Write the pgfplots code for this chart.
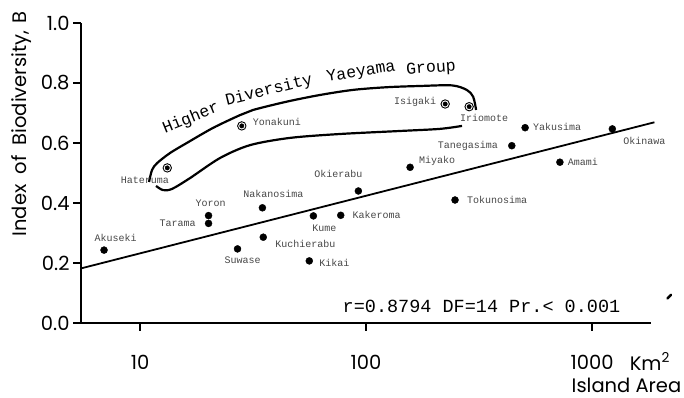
\documentclass[border=0pt]{standalone}
\usepackage{pgfplots}
\pgfplotsset{compat=1.18}
\usepackage{fontspec}
\setmainfont{Poppins}
\newfontfamily\tw{Liberation Mono}

% island name labels: x, y, xshift, yshift, name
\newcommand{\lab}[5]{\node[font=\tw\fontsize{10}{10}\selectfont, text=black!72, inner sep=0pt,
  xshift=#3pt, yshift=#4pt] at (axis cs:#1,#2) {#5};}

\begin{document}
\begin{tikzpicture}
\begin{axis}[
  scale only axis, width=570pt, height=300pt,
  xmode=log, xmin=5.48, xmax=1824, ymin=0, ymax=1,
  axis x line*=bottom, axis y line*=left,
  axis line style={-, line width=2.2pt},
  tick align=outside, major tick length=8pt,
  tick style={line width=2pt, black},
  xminorticks=false,
  xtick={10,100,1000}, xticklabels={10,100,1000},
  ytick={0,0.2,0.4,0.6,0.8,1.0},
  /pgf/number format/assume math mode=true,
  yticklabel={\pgfmathprintnumber[fixed, fixed zerofill, precision=1]{\tick}},
  tick label style={font=\fontsize{19.5}{19.5}\selectfont},
  xticklabel style={yshift=-21pt},
  clip=false,
]
% regression line
\addplot[black, line width=1.8pt] coordinates {(5.48,0.182) (1888,0.669)};

% outline of the Yaeyama group
\addplot[black, line width=2.2pt, smooth] coordinates {
  (10.96,0.47) (11.3,0.51) (11.9,0.533) (13.6,0.567) (16.1,0.6) (21.0,0.65)
  (27.7,0.693) (31.6,0.71) (44.7,0.738) (62.5,0.76) (87.6,0.777) (124,0.786)
  (173,0.79) (240,0.792) (279,0.777) (298,0.754) (307,0.71)};
\addplot[black, line width=2.2pt, smooth] coordinates {
  (11.77,0.457) (12.64,0.443) (13.86,0.447) (16.64,0.483) (22.6,0.55)
  (30.7,0.593) (46.1,0.617) (76.7,0.63) (141,0.64) (212,0.647) (266,0.657)};

% islands
\addplot[only marks, mark=*, mark size=3.5pt, black] coordinates {
  (6.93,0.243) (20.1,0.358) (20.1,0.332) (34.8,0.384) (27.0,0.247)
  (35.1,0.286) (58.5,0.357) (77.3,0.359) (56.1,0.207) (92.5,0.44)
  (156.7,0.519) (247.6,0.41) (441.6,0.591) (505.8,0.651) (721,0.536)
  (1230,0.647)};
% Yaeyama islands
\addplot[only marks, mark=o, mark size=4.2pt, line width=0.9pt, black] coordinates {
  (13.2,0.517) (28.2,0.657) (224,0.73) (286,0.721)};
\addplot[only marks, mark=*, mark size=2.2pt, black] coordinates {
  (13.2,0.517) (28.2,0.657) (224,0.73) (286,0.721)};

\lab{6.93}{0.243}{11.5}{12}{Akuseki}
\lab{13.2}{0.517}{-22.5}{-12}{Hateruma}
\lab{28.2}{0.657}{35}{4}{Yonakuni}
\lab{224}{0.73}{-30}{2}{Isigaki}
\lab{286}{0.721}{15}{-11}{Iriomote}
\lab{20.1}{0.358}{2}{12}{Yoron}
\lab{20.1}{0.332}{-31}{0}{Tarama}
\lab{34.8}{0.384}{11}{14}{Nakanosima}
\lab{27.0}{0.247}{5}{-11}{Suwase}
\lab{35.1}{0.286}{42}{-7}{Kuchierabu}
\lab{58.5}{0.357}{11}{-12}{Kume}
\lab{77.3}{0.359}{36}{0}{Kakeroma}
\lab{56.1}{0.207}{25}{-2}{Kikai}
\lab{92.5}{0.44}{-20}{17}{Okierabu}
\lab{156.7}{0.519}{27}{6}{Miyako}
\lab{247.6}{0.41}{42}{0}{Tokunosima}
\lab{441.6}{0.591}{-44}{0}{Tanegasima}
\lab{505.8}{0.651}{32}{1}{Yakusima}
\lab{721}{0.536}{23}{0}{Amami}
\lab{1230}{0.647}{32}{-12}{Okinawa}

% group caption, bending with the outline
\begin{scope}[every node/.style={font=\tw\fontsize{16.5}{17}\selectfont, inner sep=0pt}]
\node[rotate=22] at (axis cs:16.8,0.682) {Higher};
\node[rotate=14] at (axis cs:37.2,0.775) {Diversity};
\node[rotate=9] at (axis cs:95.1,0.835) {Yaeyama};
\node[rotate=4] at (axis cs:194,0.848) {Group};
\end{scope}

% statistics
\node[font=\tw\fontsize{18.5}{18.5}\selectfont, inner sep=0pt] at (rel axis cs:0.7026,0.055)
  {r=0.8794 DF=14 Pr.< 0.001};

% axis titles
\node[rotate=90, font=\fontsize{19.5}{19.5}\selectfont, inner sep=0pt] at (rel axis cs:-0.105,0.663)
  {Index\hspace{0.25em} of\hspace{0.25em} Biodiversity,\hspace{0.1em} B};
\node[font=\fontsize{19.5}{19.5}\selectfont, inner sep=0pt] at (rel axis cs:0.998,-0.128) {Km\textsuperscript{2}};
\node[font=\fontsize{19.5}{19.5}\selectfont, inner sep=0pt] at (rel axis cs:0.957,-0.208) {Island Area};
\draw[line width=2.5pt, line cap=round] (rel axis cs:1.029,0.082) -- (rel axis cs:1.035,0.094);
\end{axis}
\pgfresetboundingbox
\path (-81pt,-75pt) rectangle (603pt,323pt);
\end{tikzpicture}
\end{document}
